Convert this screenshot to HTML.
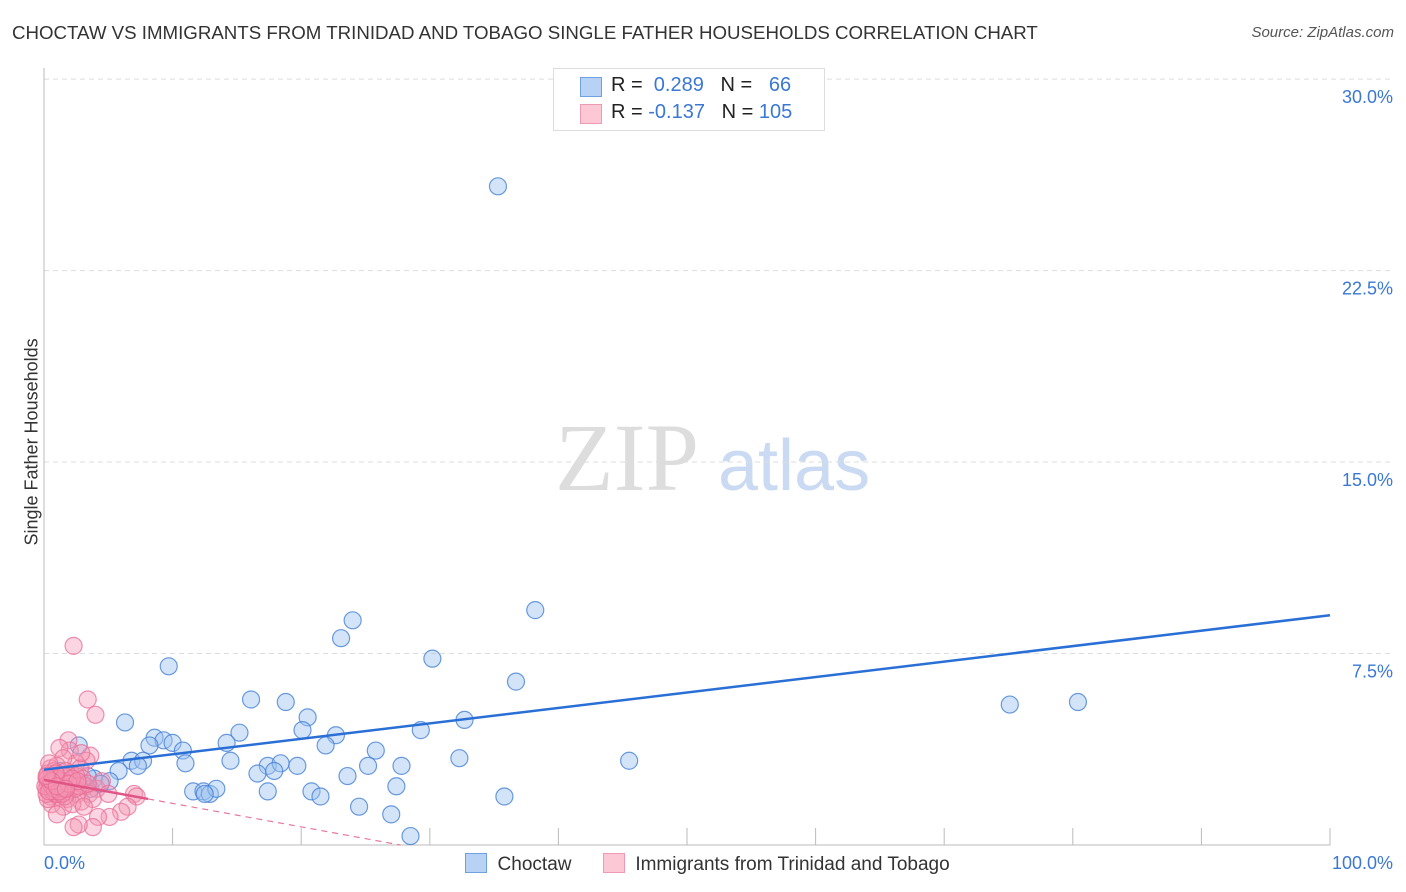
<!DOCTYPE html>
<html><head><meta charset="utf-8"><style>
body{margin:0;background:#fff;font-family:"Liberation Sans",sans-serif}
#wrap{position:relative;width:1406px;height:892px;overflow:hidden}
.t{position:absolute;white-space:nowrap}
</style></head><body><div id="wrap">
<div class="t" style="left:12px;top:22px;font-size:18.7px;color:#333">CHOCTAW VS IMMIGRANTS FROM TRINIDAD AND TOBAGO SINGLE FATHER HOUSEHOLDS CORRELATION CHART</div>
<div class="t" style="right:12px;top:24px;font-size:15px;color:#555;font-style:italic">Source: ZipAtlas.com</div>
<svg id="svg" width="1406" height="892" style="position:absolute;left:0;top:0"></svg>
</div>
<script>
const yTicks=[7.5,15,22.5,30];
const yTickLabels=["7.5%","15.0%","22.5%","30.0%"];
const blueX=[35.3,38.2,24.0,23.1,30.2,9.7,36.7,75.1,80.4,16.1,18.8,6.3,20.5,32.7,29.3,15.2,20.1,22.7,8.6,9.3,10.0,8.2,14.2,10.8,2.7,21.9,25.8,32.3,45.5,6.8,7.7,11.0,14.5,17.4,18.4,19.7,25.2,27.8,7.3,5.8,16.6,17.9,23.6,3.9,5.1,3.0,27.4,11.6,12.4,12.9,13.4,12.5,17.4,20.8,21.5,24.5,35.8,27.0,28.5,3.6,4.4,1.2,2.0,3.4,0.9,1.6];
const blueY=[25.8,9.2,8.8,8.1,7.3,7.0,6.4,5.5,5.6,5.7,5.6,4.8,5.0,4.9,4.5,4.4,4.5,4.3,4.2,4.1,4.0,3.9,4.0,3.7,3.9,3.9,3.7,3.4,3.3,3.3,3.3,3.2,3.3,3.1,3.2,3.1,3.1,3.1,3.1,2.9,2.8,2.9,2.7,2.6,2.5,2.4,2.3,2.1,2.1,2.0,2.2,2.0,2.1,2.1,1.9,1.5,1.9,1.2,0.35,2.2,2.4,2.9,2.7,2.7,2.5,2.2];
const pinkX=[2.3,3.4,4.0,1.9,2.0,1.2,3.6,3.3,2.5,1.5,0.5,1.0,2.8,0.3,0.8,1.4,2.1,3.0,0.4,0.9,1.6,2.4,3.2,4.1,0.2,0.7,1.3,1.9,2.6,3.5,0.5,1.1,1.8,2.9,3.8,0.6,1.5,2.2,3.1,7.0,7.2,6.5,6.0,5.1,4.2,3.8,2.7,2.3,1.0,0.3,0.2,0.6,1.2,1.7,2.0,2.4,0.9,1.6,4.5,5.0,0.4,2.9,1.0,0.2,0.7,1.4,0.3,0.1,0.5,1.1,1.8,2.5,0.8,1.3,2.0,0.4,1.6,2.7,0.9,1.5,0.3,2.2,1.2,0.6,1.9,3.4,2.6,0.2,1.0,1.7];
const pinkY=[7.8,5.7,5.1,4.1,3.7,3.8,3.5,3.3,3.2,3.4,3.0,3.1,3.0,2.8,2.9,2.7,2.8,2.6,2.5,2.6,2.5,2.4,2.3,2.2,2.2,2.3,2.2,2.1,2.0,2.0,1.9,1.9,1.8,1.7,1.8,1.6,1.5,1.6,1.5,2.0,1.9,1.5,1.3,1.1,1.1,0.7,0.8,0.7,1.2,1.8,2.6,2.7,2.4,2.9,2.5,2.2,2.0,1.9,2.5,2.0,3.2,3.6,2.0,2.0,2.1,2.0,2.4,2.3,2.4,2.6,2.3,2.7,2.2,2.5,2.4,2.1,2.7,2.3,2.8,2.2,2.6,2.6,2.1,2.5,2.4,2.4,2.5,2.7,2.3,2.2];
const blueTrend=[2.95,9.0];
const pinkTrend=[2.55,-0.092];
const X0=44,X1=1330,Y0=845,PPY=25.53;
const sx=v=>X0+(X1-X0)*v/100, sy=v=>Y0-v*PPY;
const svg=document.getElementById('svg');const NS='http://www.w3.org/2000/svg';
function mk(tag,at,txt){const e=document.createElementNS(NS,tag);for(const k in at)e.setAttribute(k,at[k]);if(txt!=null)e.textContent=txt;svg.appendChild(e);return e;}
let w=mk('text',{x:555,y:490,'font-family':'Liberation Serif,serif','font-size':96,fill:'#ddd'},'ZIP');


w=mk('text',{x:718,y:490,'font-family':'Liberation Sans,sans-serif','font-size':72,fill:'#c9daf2'},'atlas');


yTicks.forEach((t,i)=>{let g=mk('line',{x1:X0,x2:1393,y1:sy(t),y2:sy(t),stroke:'#ddd','stroke-dasharray':'5,4'});


let l=mk('text',{x:1393,y:sy(t)+24,'text-anchor':'end','font-size':18,fill:'#3a78d4','font-family':'Liberation Sans,sans-serif'},yTickLabels[i]);

});
let ax=mk('line',{x1:X0,x2:X0,y1:68,y2:Y0,stroke:'#bbb'});


ax=mk('line',{x1:X0,x2:X1,y1:Y0,y2:Y0,stroke:'#bbb'});


for(let i=1;i<=10;i++){let t=mk('line',{x1:sx(i*10),x2:sx(i*10),y1:Y0-17,y2:Y0,stroke:'#bbb'});

}
blueX.forEach((x,i)=>{let c=mk('circle',{cx:sx(x),cy:sy(blueY[i]),r:8.5,fill:'rgba(160,195,240,0.45)',stroke:'rgba(70,130,215,0.8)','stroke-width':1.2});

});
pinkX.forEach((x,i)=>{let c=mk('circle',{cx:sx(x),cy:sy(pinkY[i]),r:8.5,fill:'rgba(245,150,180,0.4)',stroke:'rgba(232,110,150,0.75)','stroke-width':1.2});

});
let tl=mk('line',{x1:sx(0),y1:sy(blueTrend[0]),x2:sx(100),y2:sy(blueTrend[1]),stroke:'#2a6fd6','stroke-width':2.5});


const pe=-pinkTrend[0]/pinkTrend[1];
tl=mk('line',{x1:sx(8.1),y1:sy(pinkTrend[0]+pinkTrend[1]*8.1),x2:sx(pe),y2:sy(0),stroke:'#e8789a','stroke-width':1.2,'stroke-dasharray':'6,5'});


tl=mk('line',{x1:sx(0),y1:sy(pinkTrend[0]),x2:sx(8.1),y2:sy(pinkTrend[0]+pinkTrend[1]*8.1),stroke:'#e05585','stroke-width':2.5});


</script>
<div class="t" style="left:-58px;top:445px;font-size:18px;color:#333;transform:rotate(-90deg);width:180px;text-align:center">Single Father Households</div>
<div class="t" style="left:44px;top:853px;font-size:18px;color:#3a78d4">0.0%</div>
<div class="t" style="right:13px;top:853px;font-size:18px;color:#3a78d4">100.0%</div>
<div style="position:absolute;left:553px;top:68px;width:270px;height:61px;border:1px solid #ddd;background:#fff;font-size:20px;color:#222">
<div style="position:absolute;left:26px;top:8px;width:20px;height:18px;background:#b8d2f5;border:1px solid #6fa0e0"></div>
<div class="t" style="left:57px;top:5px">R = <span style="color:#3a78d4">&nbsp;0.289</span>&nbsp;&nbsp;&nbsp;N = <span style="color:#3a78d4">&nbsp;&nbsp;66</span></div>
<div style="position:absolute;left:26px;top:35px;width:20px;height:18px;background:#fcc8d6;border:1px solid #ef9ab4"></div>
<div class="t" style="left:57px;top:32px">R = <span style="color:#3a78d4">-0.137</span>&nbsp;&nbsp;&nbsp;N = <span style="color:#3a78d4">105</span></div>
</div>
<div style="position:absolute;left:465px;top:853px;font-size:19px;color:#333">
<span><span style="display:inline-block;width:20px;height:18px;background:#b8d2f5;border:1px solid #6fa0e0;vertical-align:-3px"></span>&nbsp; Choctaw</span>
<span style="margin-left:26px"><span style="display:inline-block;width:20px;height:18px;background:#fcc8d6;border:1px solid #ef9ab4;vertical-align:-3px"></span>&nbsp; Immigrants from Trinidad and Tobago</span>
</div>
</body></html>
